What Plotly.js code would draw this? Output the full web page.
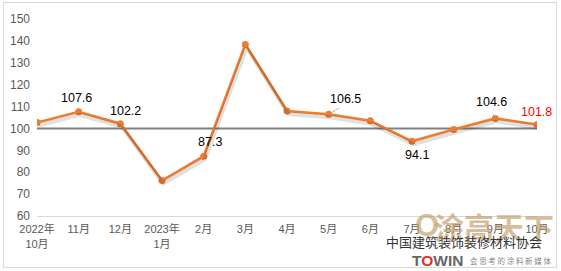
<!DOCTYPE html>
<html><head><meta charset="utf-8">
<script src="https://cdn.plot.ly/plotly-3.0.1.min.js"></script>
<style>
html,body{margin:0;padding:0;background:#fff;}
#wrap{position:relative;width:561px;height:271px;}
#chart{position:absolute;left:0;top:0;width:561px;height:271px;}
#border{position:absolute;left:3px;top:2px;width:552px;height:264px;border:1px solid #d9d9d9;pointer-events:none;}
</style></head>
<body>
<div id="wrap"><div id="chart"></div><div id="border"></div></div>
<script>
const categories = ["2022年<br>10月","11月","12月","2023年<br>1月","2月","3月","4月","5月","6月","7月","8月","9月","10月"];
const values = [102.7, 107.6, 102.2, 76.2, 87.3, 138.4, 108.0, 106.5, 103.5, 94.1, 99.5, 104.6, 101.8];
const labelIdx = [1, 2, 4, 7, 9, 11, 12];
const yTicks = [60, 70, 80, 90, 100, 110, 120, 130, 140, 150];
const baseline = 100;

const idx = categories.map((c, i) => i);
const FONT = "'Liberation Sans', 'Noto Sans CJK SC', sans-serif";
const ORANGE = "#ED7D31";

const traces = [
  { // soft shadow, drawn via an offset axis pair
    x: idx, y: values, type: "scatter", mode: "lines",
    xaxis: "x2", yaxis: "y2",
    line: { color: "rgba(0,0,0,0.12)", width: 4 },
    hoverinfo: "skip", showlegend: false
  },
  {
    x: idx, y: values, type: "scatter", mode: "lines+markers",
    line: { color: ORANGE, width: 2.6 },
    marker: { color: ORANGE, size: 7 },
    showlegend: false
  }
];

// label offsets in px (xshift, yshift) relative to point
const offs = {1:[-2,14], 2:[5,13], 4:[6,14], 7:[17,15], 9:[5,-14], 11:[-4,16], 12:[-1,13]};
const annotations = labelIdx.map(i => {
  const o = offs[i];
  return {
    x: i, y: values[i], xref: "x", yref: "y",
    text: values[i].toFixed(1), showarrow: false,
    xshift: o[0], yshift: o[1],
    font: { family: FONT, size: 12.5, color: i === 12 ? "#FF0000" : "#000000" }
  };
});
// leader lines for 106.5 and 104.6
annotations.push({ x: 7, y: values[7], xref: "x", yref: "y", ax: 12, ay: -7, showarrow: true,
  arrowhead: 0, arrowwidth: 0.8, arrowcolor: "#a6a6a6", text: "", standoff: 2 });
annotations.push({ x: 11, y: values[11], xref: "x", yref: "y", ax: -3, ay: -6, showarrow: true,
  arrowhead: 0, arrowwidth: 0.8, arrowcolor: "#a6a6a6", text: "", standoff: 2 });

// watermark texts
annotations.push({ xref: "paper", yref: "paper", x: 1.038, y: -0.05, xanchor: "right", yanchor: "middle",
  text: "<b>涂高天下</b>", showarrow: false, font: { family: "'Noto Sans CJK SC'", size: 30, color: "rgba(196,160,110,0.7)" } });
annotations.push({ xref: "paper", yref: "paper", x: 0.752, y: -0.05, xanchor: "left", yanchor: "middle",
  text: "<b>O</b>", showarrow: false, font: { family: FONT, size: 31, color: "rgba(196,160,110,0.7)" } });
annotations.push({ xref: "paper", yref: "paper", x: 0.694, y: -0.128, xanchor: "left", yanchor: "middle",
  text: "中国建筑装饰装修材料协会", showarrow: false, font: { family: "'Noto Sans CJK SC'", size: 13, color: "#333333" } });
annotations.push({ xref: "paper", yref: "paper", x: 0.745, y: -0.225, xanchor: "left", yanchor: "middle",
  text: "<b>T<span style='color:#d33'>O</span>WIN</b>", showarrow: false, font: { family: FONT, size: 15.5, color: "#666666" } });
annotations.push({ xref: "paper", yref: "paper", x: 0.862, y: -0.225, xanchor: "left", yanchor: "middle",
  text: "会 思 考 的 涂 料 新 媒 体", showarrow: false, font: { family: "'Noto Sans CJK SC'", size: 7.5, color: "#888888" } });

const layout = {
  width: 561, height: 271,
  margin: { l: 37, r: 24, t: 19, b: 55, pad: 0 },
  paper_bgcolor: "#ffffff", plot_bgcolor: "#ffffff",
  font: { family: FONT, size: 11, color: "#595959" },
  showlegend: false,
  xaxis: {
    range: [0, 12], tickmode: "array", tickvals: idx, ticktext: categories,
    showgrid: false, zeroline: false, showline: true, linecolor: "#d9d9d9", linewidth: 1,
    ticks: "", ticklabelstandoff: 3, tickfont: { family: FONT, size: 11, color: "#595959" },
    fixedrange: true
  },
  yaxis: {
    range: [60, 150], tickmode: "array", tickvals: yTicks,
    showgrid: false, zeroline: false, showline: false,
    ticks: "", ticklabelstandoff: 6, tickfont: { family: FONT, size: 12, color: "#595959" },
    fixedrange: true
  },
  xaxis2: { range: [-0.03, 11.97], overlaying: "x", visible: false, fixedrange: true },
  yaxis2: { range: [61.4, 151.4], overlaying: "y", visible: false, fixedrange: true },
  shapes: [
    { type: "line", xref: "x", yref: "y", x0: 0, x1: 12, y0: baseline, y1: baseline,
      line: { color: "#7f7f7f", width: 2 }, layer: "below" }
  ],
  annotations: annotations
};

Plotly.newPlot("chart", traces, layout, { displayModeBar: false, staticPlot: true });
</script>
</body></html>
